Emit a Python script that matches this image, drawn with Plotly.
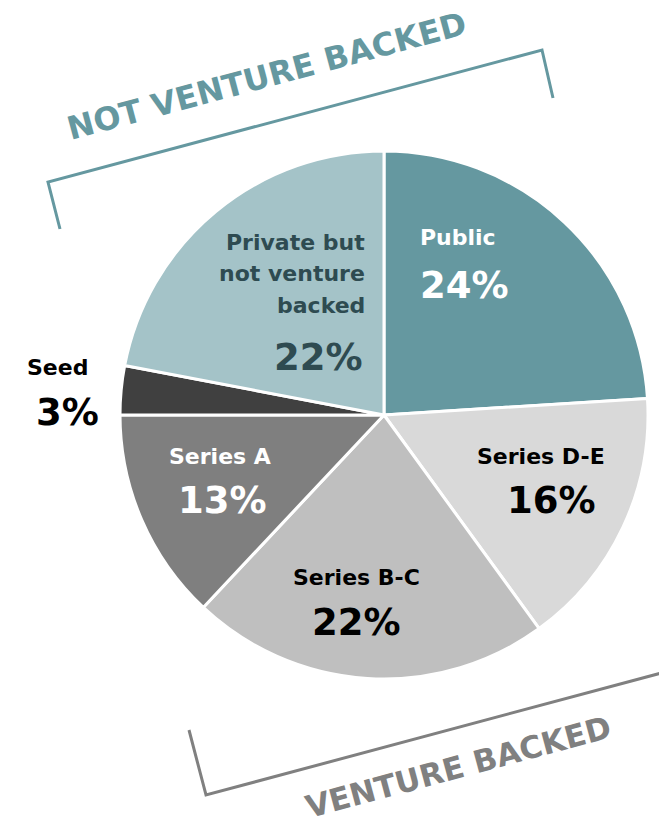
import plotly.graph_objects as go

W, H = 659, 830

# ---- data ----
categories = ["Public", "Series D-E", "Series B-C", "Series A", "Seed", "Private but<br>not venture<br>backed"]
values = [24, 16, 22, 13, 3, 22]
pct_labels = ["24%", "16%", "22%", "13%", "3%", "22%"]
colors = ["#6598A0", "#D9D9D9", "#BFBFBF", "#7F7F7F", "#404040", "#A4C3C8"]
text_colors = ["#FFFFFF", "#000000", "#000000", "#FFFFFF", "#000000", "#2E4B51"]
group_labels = ["NOT VENTURE BACKED", "VENTURE BACKED"]
group_colors = ["#6598A0", "#808080"]

FONT = "DejaVu Sans"

def X(px):
    return px / W

def Y(py):
    return 1 - py / H

fig = go.Figure(go.Pie(
    labels=[c.replace("<br>", " ") for c in categories],
    values=values,
    sort=False,
    direction="clockwise",
    rotation=0,
    marker=dict(colors=colors, line=dict(color="white", width=3)),
    textinfo="none",
    hoverinfo="label+percent",
    showlegend=False,
    domain=dict(x=[X(120), X(648)], y=[Y(679), Y(151)]),
))

# label layout: (anchor x px, label first-line center y px, pct center y px, xanchor)
label_pos = [
    (418, 238, 285, "left"),
    (607, 456, 500, "right"),
    (357, 577, 622, "center"),
    (220, 456, 500, "center"),
    (90, 367, 413, "right"),
    (367, 242, 357, "right"),
]
pct_x = [418, 598, 357, 222, 101, 365]

annotations = []
for i, cat in enumerate(categories):
    lx, ly, py, xa = label_pos[i]
    for j, line in enumerate(cat.split("<br>")):
        annotations.append(dict(
            x=X(lx), y=Y(ly + j * 31.5), xref="paper", yref="paper",
            text="<b>" + line + "</b>", showarrow=False,
            xanchor=xa, yanchor="middle",
            font=dict(family=FONT, size=22, color=text_colors[i]),
        ))
    annotations.append(dict(
        x=X(pct_x[i]), y=Y(py), xref="paper", yref="paper",
        text="<b>" + pct_labels[i] + "</b>", showarrow=False,
        xanchor=xa, yanchor="middle",
        font=dict(family=FONT, size=37, color=text_colors[i]),
    ))

# group titles
annotations.append(dict(
    x=X(267), y=Y(76), xref="paper", yref="paper",
    text="<b>" + group_labels[0] + "</b>", showarrow=False, textangle=-15,
    xanchor="center", yanchor="middle",
    font=dict(family=FONT, size=32, color=group_colors[0]),
))
annotations.append(dict(
    x=X(458), y=Y(767), xref="paper", yref="paper",
    text="<b>" + group_labels[1] + "</b>", showarrow=False, textangle=-15,
    xanchor="center", yanchor="middle",
    font=dict(family=FONT, size=31, color=group_colors[1]),
))

def path(pts):
    return "M " + " L ".join(f"{X(a)},{Y(b)}" for a, b in pts)

shapes = [
    dict(type="path", xref="paper", yref="paper",
         path=path([(60, 229), (48, 182), (542, 50), (553, 98)]),
         line=dict(color=group_colors[0], width=3)),
    dict(type="path", xref="paper", yref="paper",
         path=path([(189, 730), (206, 795), (665, 672)]),
         line=dict(color=group_colors[1], width=3)),
]

fig.update_layout(
    width=W, height=H,
    margin=dict(l=0, r=0, t=0, b=0),
    paper_bgcolor="white", plot_bgcolor="white",
    annotations=annotations, shapes=shapes,
)

fig.write_html(
    "out.html",
    config={"displayModeBar": False},
    post_script="document.body.style.margin='0px';document.body.style.overflow='hidden';",
)
